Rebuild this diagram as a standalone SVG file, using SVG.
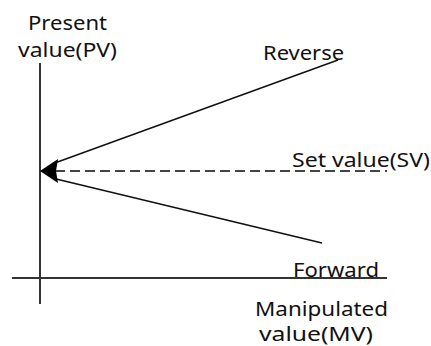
<svg xmlns="http://www.w3.org/2000/svg" width="431" height="346" viewBox="0 0 431 346">
<style>
text{font-family:"Noto Sans","Open Sans",sans-serif;font-size:19px;fill:#111}
.ax{stroke:#333;stroke-width:2;fill:none}
.ln{stroke:#111;stroke-width:1.6;fill:none}
.ds{stroke:#444;stroke-width:2;stroke-dasharray:10 5;fill:none}
</style>
<rect width="431" height="346" fill="#fff"/>
<g id="axes">
<line class="ax" x1="40" y1="63" x2="40" y2="304"/>
<line class="ax" x1="12" y1="278" x2="387" y2="278"/>
</g>
<g id="connectors">
<line class="ds" x1="55" y1="171" x2="387" y2="171"/>
<line class="ln" x1="338" y1="60" x2="52" y2="164"/>
<line class="ln" x1="322" y1="243" x2="52" y2="178"/>
<polygon points="40,171 58,159 56,171 58,183" fill="#000"/>
</g>
<g id="label-pv">
<text x="28" y="30" textLength="79" lengthAdjust="spacingAndGlyphs">Present</text>
<text x="18" y="57" textLength="99" lengthAdjust="spacingAndGlyphs">value(PV)</text>
</g>
<g id="label-reverse"><text x="263" y="60" textLength="81" lengthAdjust="spacingAndGlyphs">Reverse</text></g>
<g id="label-sv"><text x="292" y="167" textLength="138" lengthAdjust="spacingAndGlyphs">Set value(SV)</text></g>
<g id="label-forward"><text x="293" y="277" textLength="86" lengthAdjust="spacingAndGlyphs">Forward</text></g>
<g id="label-mv">
<text x="255" y="316" textLength="133" lengthAdjust="spacingAndGlyphs">Manipulated</text>
<text x="259" y="341" textLength="114" lengthAdjust="spacingAndGlyphs">value(MV)</text>
</g>
</svg>
